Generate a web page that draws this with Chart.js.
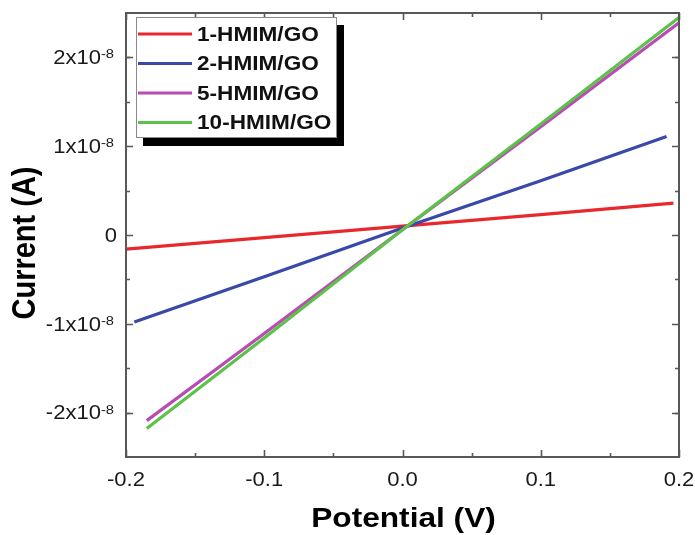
<!DOCTYPE html>
<html>
<head>
<meta charset="utf-8">
<script src="https://cdn.jsdelivr.net/npm/chart.js@4.4.1/dist/chart.umd.min.js"></script>
<style>
  html, body { margin: 0; padding: 0; background: #ffffff; }
  #c { display: block; }
</style>
</head>
<body>
<canvas id="c" width="695" height="535"></canvas>
<script>
// ---- data ----
const seriesLabels = ['1-HMIM/GO', '2-HMIM/GO', '5-HMIM/GO', '10-HMIM/GO'];
const seriesColors = ['#e8282c', '#3a48a8', '#b84cb4', '#5cc24a'];

const vRed     = [-0.2,   -0.1,    0,      0.1,    0.196];
const iRed     = [-0.16e-8, -0.03e-8, 0.10e-8, 0.23e-8, 0.36e-8];

const vBlue    = [-0.194, -0.1,    0,      0.1,    0.191];
const iBlue    = [-0.98e-8, -0.47e-8, 0.08e-8, 0.61e-8, 1.11e-8];

const vMagenta = [-0.185, -0.1,    0,      0.1,    0.2];
const iMagenta = [-2.09e-8, -1.11e-8, 0.06e-8, 1.22e-8, 2.39e-8];

const vGreen   = [-0.185, -0.1,    0,      0.1,    0.2];
const iGreen   = [-2.18e-8, -1.16e-8, 0.06e-8, 1.25e-8, 2.45e-8];

const xTickValues = [-0.2, -0.1, 0.0, 0.1, 0.2];
const xTickLabels = ['-0.2', '-0.1', '0.0', '0.1', '0.2'];
const yTickValues = [-2e-8, -1e-8, 0, 1e-8, 2e-8];
const yTickBase   = ['-2x10', '-1x10', '0', '1x10', '2x10'];
const yTickExp    = ['-8', '-8', '', '-8', '-8'];

const xTitle = 'Potential (V)';
const yTitle = 'Current (A)';

// ---- helpers ----
function pts(vs, is) { return vs.map((v, k) => ({ x: v, y: is[k] })); }
const FONT = '"Liberation Sans", Arial, sans-serif';
const SX = 1.13; // horizontal stretch of the reference picture

function sText(ctx, text, x, y, align, baseline, font, sx) {
  ctx.save();
  ctx.translate(x, y);
  ctx.scale(sx, 1);
  ctx.font = font;
  ctx.textAlign = align;
  ctx.textBaseline = baseline;
  ctx.fillText(text, 0, 0);
  ctx.restore();
}

const decor = {
  id: 'decor',
  afterDatasetsDraw(chart) {
    const { ctx, chartArea: a, scales } = chart;
    const xs = scales.x, ys = scales.y;
    ctx.save();
    ctx.strokeStyle = '#585858';
    ctx.fillStyle = '#111';
    // frame
    ctx.lineWidth = 2;
    ctx.strokeRect(a.left, a.top, a.right - a.left, a.bottom - a.top);
    // ticks
    ctx.lineWidth = 1.6;
    const major = 7, minor = 4;
    function xTick(v, len) {
      const p = Math.round(xs.getPixelForValue(v)) + 0.5;
      ctx.beginPath();
      ctx.moveTo(p, a.bottom); ctx.lineTo(p, a.bottom - len);
      ctx.moveTo(p, a.top); ctx.lineTo(p, a.top + len);
      ctx.stroke();
    }
    function yTick(v, len) {
      const p = Math.round(ys.getPixelForValue(v)) + 0.5;
      ctx.beginPath();
      ctx.moveTo(a.left, p); ctx.lineTo(a.left + len, p);
      ctx.moveTo(a.right, p); ctx.lineTo(a.right - len, p);
      ctx.stroke();
    }
    xTickValues.forEach((v, k) => {
      xTick(v, major);
      if (k < xTickValues.length - 1) xTick((v + xTickValues[k + 1]) / 2, minor);
    });
    yTickValues.forEach((v, k) => {
      yTick(v, major);
      if (k < yTickValues.length - 1) yTick((v + yTickValues[k + 1]) / 2, minor);
    });
    yTick(ys.min + 0.5e-8, minor);
    yTick(ys.max - 0.5e-8, minor);

    // x tick labels
    ctx.fillStyle = '#1a1a1a';
    xTickValues.forEach((v, k) => {
      sText(ctx, xTickLabels[k], xs.getPixelForValue(v), 481, 'center', 'middle', '19.5px ' + FONT, SX);
    });
    // y tick labels with superscript
    yTickValues.forEach((v, k) => {
      const p = ys.getPixelForValue(v);
      if (yTickExp[k] === '') {
        sText(ctx, yTickBase[k], 117, p + 1.5, 'right', 'middle', '19.5px ' + FONT, SX);
      } else {
        const R = 114;
        ctx.font = '13px ' + FONT;
        const ew = ctx.measureText(yTickExp[k]).width * SX;
        sText(ctx, yTickExp[k], R, p + 1, 'right', 'alphabetic', '13px ' + FONT, SX);
        sText(ctx, yTickBase[k], R - ew, p + 1.5, 'right', 'middle', '19.5px ' + FONT, SX);
      }
    });

    // axis titles
    ctx.fillStyle = '#000';
    sText(ctx, xTitle, (a.left + a.right) / 2 + 1, 519, 'center', 'middle', 'bold 28px ' + FONT, SX);
    ctx.save();
    ctx.translate(26, 243);
    ctx.rotate(-Math.PI / 2);
    ctx.scale(1, 1.12);
    ctx.font = 'bold 29px ' + FONT;
    ctx.textAlign = 'center';
    ctx.textBaseline = 'middle';
    ctx.fillText(yTitle, 0, 0);
    ctx.restore();

    // legend with drop shadow
    const L = 136, T = 17, Rr = 337, B = 138;
    ctx.fillStyle = '#000';
    ctx.fillRect(L + 7, T + 8, Rr - L, B - T);
    ctx.fillStyle = '#fff';
    ctx.fillRect(L, T, Rr - L, B - T);
    ctx.strokeStyle = '#8a8a8a';
    ctx.lineWidth = 1;
    ctx.strokeRect(L + 0.5, T + 0.5, Rr - L - 1, B - T - 1);
    const rows = [34, 63.5, 93, 122.5];
    seriesLabels.forEach((lab, k) => {
      ctx.strokeStyle = seriesColors[k];
      ctx.lineWidth = 3;
      ctx.beginPath();
      ctx.moveTo(138, rows[k]); ctx.lineTo(192, rows[k]);
      ctx.stroke();
      ctx.fillStyle = '#111';
      sText(ctx, lab, 197, rows[k] + 1, 'left', 'middle', 'bold 20px ' + FONT, SX);
    });
    ctx.restore();
  }
};

const datasets = [
  { label: seriesLabels[0], data: pts(vRed, iRed), borderColor: seriesColors[0], order: 3 },
  { label: seriesLabels[1], data: pts(vBlue, iBlue), borderColor: seriesColors[1], order: 2 },
  { label: seriesLabels[2], data: pts(vMagenta, iMagenta), borderColor: seriesColors[2], order: 1 },
  { label: seriesLabels[3], data: pts(vGreen, iGreen), borderColor: seriesColors[3], order: 0 }
].map(d => Object.assign(d, { showLine: true, pointRadius: 0, borderWidth: 3.2, tension: 0, fill: false }));

new Chart(document.getElementById('c'), {
  type: 'scatter',
  data: { datasets },
  options: {
    responsive: false,
    devicePixelRatio: 1,
    animation: false,
    layout: { padding: { left: 126, right: 16, top: 13, bottom: 78 } },
    plugins: { legend: { display: false }, tooltip: { enabled: false } },
    scales: {
      x: {
        type: 'linear', min: -0.2, max: 0.2,
        ticks: { display: false, stepSize: 0.1, padding: 0 },
        grid: { display: false, drawTicks: false, tickLength: 0 }, border: { display: false }, title: { display: false }
      },
      y: {
        type: 'linear', min: -2.5e-8, max: 2.5e-8,
        ticks: { display: false, stepSize: 1e-8, padding: 0 },
        grid: { display: false, drawTicks: false, tickLength: 0 }, border: { display: false }, title: { display: false }
      }
    }
  },
  plugins: [decor]
});
</script>
</body>
</html>
